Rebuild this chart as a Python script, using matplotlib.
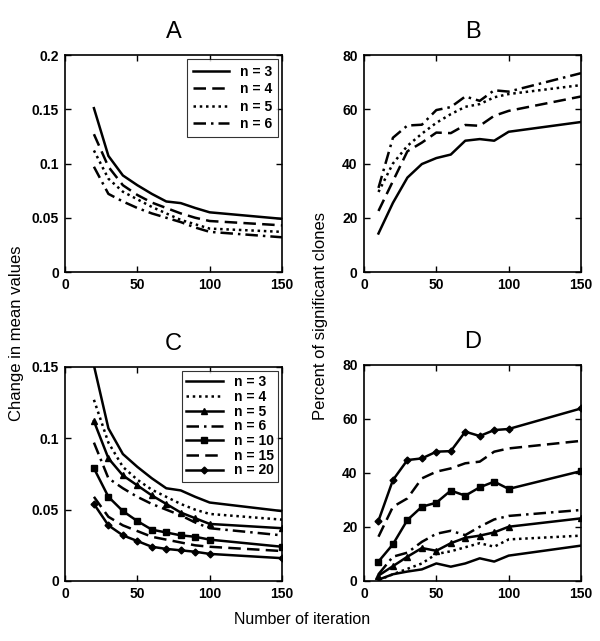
import matplotlib
matplotlib.use("Agg")
import matplotlib.pyplot as plt

plt.rcParams['font.family'] = ['Liberation Sans', 'DejaVu Sans']

# ---------------- data ----------------
x_ac = [20, 30, 40, 50, 60, 70, 80, 90, 100, 150]
x_bd = [10, 20, 30, 40, 50, 60, 70, 80, 90, 100, 150]

# Panel A / C: change in mean values
a_n3 = [0.151, 0.107, 0.089, 0.080, 0.072, 0.065, 0.0635, 0.059, 0.055, 0.049]
a_n4 = [0.127, 0.097, 0.080, 0.071, 0.064, 0.059, 0.054, 0.050, 0.047, 0.043]
a_n5 = [0.112, 0.086, 0.074, 0.067, 0.060, 0.054, 0.048, 0.044, 0.040, 0.037]
a_n6 = [0.097, 0.072, 0.065, 0.059, 0.054, 0.050, 0.046, 0.041, 0.037, 0.032]
c_n10 = [0.079, 0.059, 0.049, 0.042, 0.036, 0.034, 0.032, 0.031, 0.029, 0.024]
c_n15 = [0.059, 0.045, 0.039, 0.035, 0.031, 0.029, 0.027, 0.025, 0.024, 0.021]
c_n20 = [0.054, 0.039, 0.032, 0.028, 0.024, 0.0225, 0.0215, 0.0205, 0.019, 0.016]

# Panel B: percent of significant clones
b_n3 = [14.2, 25.5, 34.8, 39.8, 42.0, 43.3, 48.4, 49.0, 48.4, 51.7, 55.3]
b_n4 = [22.5, 33.5, 44.5, 47.7, 51.4, 51.2, 54.2, 53.9, 57.6, 59.4, 64.7]
b_n5 = [29.5, 40.0, 46.5, 51.0, 55.0, 58.2, 60.9, 61.9, 64.4, 65.6, 68.9]
b_n6 = [31.0, 49.5, 54.0, 54.3, 59.7, 60.8, 64.7, 63.1, 67.0, 66.5, 73.3]

# Panel D
d_n3 = [0.5, 2.5, 3.5, 4.3, 6.5, 5.3, 6.5, 8.4, 7.2, 9.4, 13.1]
d_n4 = [0.3, 2.5, 4.5, 6.5, 10.0, 11.0, 12.5, 14.0, 12.7, 15.4, 16.8]
d_n5 = [2.0, 5.5, 9.0, 12.2, 11.2, 14.0, 16.0, 16.8, 18.0, 20.1, 23.2]
d_n6 = [2.5, 9.0, 10.5, 14.5, 17.5, 18.6, 17.0, 20.1, 22.8, 24.1, 26.3]
d_n10 = [7.2, 13.6, 22.6, 27.5, 29.0, 33.5, 31.6, 34.7, 36.8, 34.1, 40.7]
d_n15 = [16.4, 27.5, 30.6, 38.0, 40.5, 41.7, 43.6, 44.2, 47.9, 49.1, 51.9]
d_n20 = [22.3, 37.4, 44.8, 45.4, 47.9, 48.1, 55.3, 53.7, 55.9, 56.3, 63.9]

labels4 = ['n = 3', 'n = 4', 'n = 5', 'n = 6']
labels7 = ['n = 3', 'n = 4', 'n = 5', 'n = 6', 'n = 10', 'n = 15', 'n = 20']
xticks = [0, 50, 100, 150]
yticks_a = [0, 0.05, 0.1, 0.15, 0.2]
yticks_c = [0, 0.05, 0.1, 0.15]
yticks_bd = [0, 20, 40, 60, 80]

# ---------------- styles ----------------
lw = 1.8
solid = dict(color='black', lw=lw, linestyle='-')
dashed = dict(color='black', lw=lw, linestyle=(0, (5, 2.5)))
dotted = dict(color='black', lw=lw, linestyle=(0, (1, 1.5)))
dashdot = dict(color='black', lw=lw, linestyle=(0, (5, 2, 1, 2)))
tri = dict(solid, marker='^', ms=4.5)
sq = dict(solid, marker='s', ms=5)
dia = dict(solid, marker='D', ms=3.5)

W, H = 600, 641
fig = plt.figure(figsize=(W / 100, H / 100), dpi=100)

def ax_at(l, t, r, b):
    return fig.add_axes([l / W, 1 - b / H, (r - l) / W, (b - t) / H])

axA = ax_at(65, 55, 282, 272)
axB = ax_at(364, 55, 581, 272)
axC = ax_at(65, 367, 282, 581)
axD = ax_at(364, 365, 581, 581)

def style(ax, yt, ylim, title, yfmt=None):
    ax.set_xlim(0, 150)
    ax.set_ylim(*ylim)
    ax.set_xticks(xticks)
    ax.set_yticks(yt)
    if yfmt:
        ax.set_yticklabels([yfmt(v) for v in yt])
    ax.tick_params(direction='in', top=True, right=True, length=4, width=1,
                   labelsize=10, pad=4.5)
    for lab in ax.get_xticklabels() + ax.get_yticklabels():
        lab.set_fontweight('bold')
    for s in ax.spines.values():
        s.set_linewidth(1.2)
    ax.set_title(title, fontsize=17, pad=12)

fmt = lambda v: '0' if v == 0 else ('%g' % v)

# Panel A
axA.plot(x_ac, a_n3, label=labels4[0], **solid)
axA.plot(x_ac, a_n4, label=labels4[1], **dashed)
axA.plot(x_ac, a_n5, label=labels4[2], **dotted)
axA.plot(x_ac, a_n6, label=labels4[3], **dashdot)
style(axA, yticks_a, (0, 0.2), 'A', fmt)
legA = axA.legend(loc='upper right', fontsize=10, frameon=True, fancybox=False,
                  edgecolor='black', handlelength=2.6, borderpad=0.4,
                  labelspacing=0.25, handletextpad=0.8, borderaxespad=0.3)
legA.get_frame().set_linewidth(0.8)
for t in legA.get_texts():
    t.set_fontweight('bold')

# Panel B
axB.plot(x_bd, b_n3, **solid)
axB.plot(x_bd, b_n4, **dashed)
axB.plot(x_bd, b_n5, **dotted)
axB.plot(x_bd, b_n6, **dashdot)
style(axB, yticks_bd, (0, 80), 'B')

# Panel C
axC.plot(x_ac, a_n3, label=labels7[0], **solid)
axC.plot(x_ac, a_n4, label=labels7[1], **dotted)
axC.plot(x_ac, a_n5, label=labels7[2], **tri)
axC.plot(x_ac, a_n6, label=labels7[3], **dashdot)
axC.plot(x_ac, c_n10, label=labels7[4], **sq)
axC.plot(x_ac, c_n15, label=labels7[5], **dashed)
axC.plot(x_ac, c_n20, label=labels7[6], **dia)
style(axC, yticks_c, (0, 0.15), 'C', fmt)
legC = axC.legend(loc='upper right', fontsize=10, frameon=True, fancybox=False,
                  edgecolor='black', handlelength=2.6, borderpad=0.3,
                  labelspacing=0.05, handletextpad=0.8, borderaxespad=0.3)
legC.get_frame().set_linewidth(0.8)
for t in legC.get_texts():
    t.set_fontweight('bold')

# Panel D
axD.plot(x_bd, d_n3, **solid)
axD.plot(x_bd, d_n4, **dotted)
axD.plot(x_bd, d_n5, **tri)
axD.plot(x_bd, d_n6, **dashdot)
axD.plot(x_bd, d_n10, **sq)
axD.plot(x_bd, d_n15, **dashed)
axD.plot(x_bd, d_n20, **dia)
style(axD, yticks_bd, (0, 80), 'D')

# Shared labels
fig.text(17 / W, 1 - 333 / H, 'Change in mean values', rotation=90,
         ha='center', va='center', fontsize=12)
fig.text(320 / W, 1 - 316 / H, 'Percent of significant clones', rotation=90,
         ha='center', va='center', fontsize=12)
fig.text(302 / W, 1 - 620 / H, 'Number of iteration', ha='center', va='center',
         fontsize=11.5)

fig.savefig('out.png', dpi=100)
